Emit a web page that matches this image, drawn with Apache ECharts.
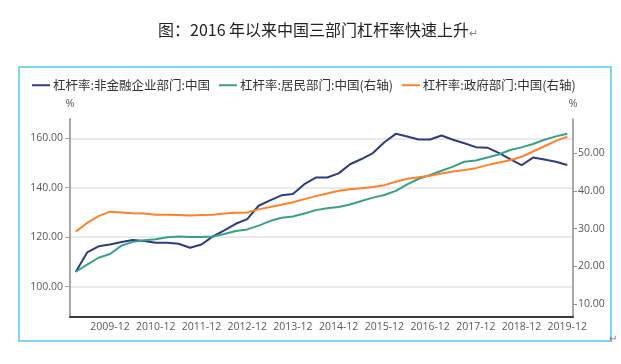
<!DOCTYPE html>
<html>
<head>
<meta charset="utf-8">
<script src="https://cdn.jsdelivr.net/npm/echarts@6/dist/echarts.min.js"></script>
<style>
html,body{margin:0;padding:0;background:#fff;}
#c{width:621px;height:364px;}
</style>
</head>
<body>
<div id="c"></div>
<script>
// ---- data ----
const categories = (function(){
  const out = [];
  for (let y = 2009; y <= 2019; y++) {
    ['03','06','09','12'].forEach(m => out.push(y + '-' + m));
  }
  return out;
})();
const seriesNames = ['杠杆率:非金融企业部门:中国', '杠杆率:居民部门:中国(右轴)', '杠杆率:政府部门:中国(右轴)'];
const corporate = [105.9,113.8,116.3,117.0,118.0,118.8,118.4,117.7,117.7,117.3,115.7,117.0,120.3,122.7,125.4,127.3,132.7,134.9,136.9,137.4,141.4,144.1,144.1,145.8,149.5,151.6,154.0,158.4,161.8,160.7,159.5,159.5,161.1,159.4,158.0,156.4,156.2,154.1,151.6,149.1,152.2,151.4,150.5,149.2];
const household = [18.6,20.5,22.3,23.3,25.5,26.5,26.9,27.2,27.7,27.9,27.8,27.8,27.9,28.6,29.4,29.8,30.8,32.0,32.9,33.2,34.0,34.9,35.4,35.7,36.4,37.3,38.2,38.9,40.0,41.7,43.2,44.2,45.3,46.4,47.7,48.0,48.8,49.6,50.8,51.5,52.4,53.5,54.4,55.1];
const government = [29.2,31.5,33.3,34.5,34.3,34.1,34.0,33.7,33.7,33.6,33.5,33.6,33.7,34.0,34.2,34.3,35.1,35.7,36.3,37.0,37.8,38.6,39.3,40.0,40.4,40.7,41.0,41.5,42.4,43.2,43.6,44.0,44.6,45.1,45.5,46.0,46.8,47.5,48.1,49.0,50.4,51.8,53.2,54.3];
const leftTicks = [100, 120, 140, 160];
const rightTicks = [10, 20, 30, 40, 50];
const titleText = '图：2016 年以来中国三部门杠杆率快速上升';

const colors = ['#2f3b7c', '#3a9f88', '#ff8129'];
const cjk = '"Noto Sans CJK SC", "Liberation Sans", sans-serif';
const numFont = '"Open Sans", "Liberation Sans", sans-serif';
const yearLabel = (i) => i % 4 === 3;

const chart = echarts.init(document.getElementById('c'), null, {renderer: 'canvas'});
chart.setOption({
  animation: false,
  backgroundColor: '#fff',
  color: colors,
  graphic: [
    {type: 'rect', shape: {x: 19, y: 67, width: 592, height: 274},
     style: {fill: 'none', stroke: '#7fd3f2', lineWidth: 2}, z: 0},
    {type: 'text', left: 158, top: 22,
     style: {text: '{a|' + titleText + '}{b|↵}',
       rich: {a: {fontSize: 16, fill: '#222', fontFamily: cjk},
              b: {fontSize: 11, fill: '#888', fontFamily: cjk, padding: [6,0,0,0]}}}},
    {type: 'text', left: 609, top: 333, style: {text: '↵', fontSize: 10, fill: '#777', fontFamily: cjk}}
  ],
  legend: {
    top: 74, left: 27,
    itemWidth: 18, itemHeight: 2, itemGap: 9,
    icon: 'rect',
    textStyle: {fontSize: 12.5, color: '#333', fontFamily: cjk, padding: [0,0,0,-2]},
    data: seriesNames
  },
  grid: {left: 70, right: 48, top: 119, bottom: 47, containLabel: false},
  xAxis: {
    type: 'category',
    data: categories,
    boundaryGap: true,
    axisLine: {lineStyle: {color: '#3a3a3a', width: 2}},
    axisTick: {alignWithLabel: true, interval: yearLabel, length: 4, lineStyle: {color: '#888'}},
    axisLabel: {interval: yearLabel, color: '#595959', fontSize: 10.5, fontFamily: numFont, margin: 5},
    splitLine: {show: false}
  },
  yAxis: [
    {
      type: 'value', position: 'left',
      min: 87.67, max: 167.8,
      name: '%', nameLocation: 'end', nameGap: 10,
      nameTextStyle: {color: '#595959', fontSize: 11, fontFamily: numFont},
      axisLine: {show: true, lineStyle: {color: '#a6a6a6', width: 2}},
      axisTick: {show: true, length: 5, customValues: leftTicks, lineStyle: {color: '#a6a6a6'}},
      axisLabel: {customValues: leftTicks, color: '#595959', fontSize: 10.5, fontFamily: numFont, margin: 7,
                  formatter: v => v.toFixed(2)},
      splitLine: {show: true, lineStyle: {color: '#e3e3e3', width: 1.5}}
    },
    {
      type: 'value', position: 'right',
      min: 6.63, max: 59.0,
      name: '%', nameLocation: 'end', nameGap: 10,
      nameTextStyle: {color: '#595959', fontSize: 11, fontFamily: numFont},
      axisLine: {show: true, lineStyle: {color: '#8c8c8c', width: 1.5}},
      axisTick: {show: true, length: 4, customValues: rightTicks, lineStyle: {color: '#8c8c8c'}},
      axisLabel: {customValues: rightTicks, color: '#595959', fontSize: 10.5, fontFamily: numFont, margin: 5,
                  formatter: v => v.toFixed(2)},
      splitLine: {show: false}
    }
  ],
  series: [
    {name: seriesNames[0], type: 'line', yAxisIndex: 0, data: corporate, symbol: 'none',
     lineStyle: {width: 2, color: colors[0]}},
    {name: seriesNames[1], type: 'line', yAxisIndex: 1, data: household, symbol: 'none',
     lineStyle: {width: 2, color: colors[1]}},
    {name: seriesNames[2], type: 'line', yAxisIndex: 1, data: government, symbol: 'none',
     lineStyle: {width: 2, color: colors[2]}}
  ]
});
</script>
</body>
</html>
